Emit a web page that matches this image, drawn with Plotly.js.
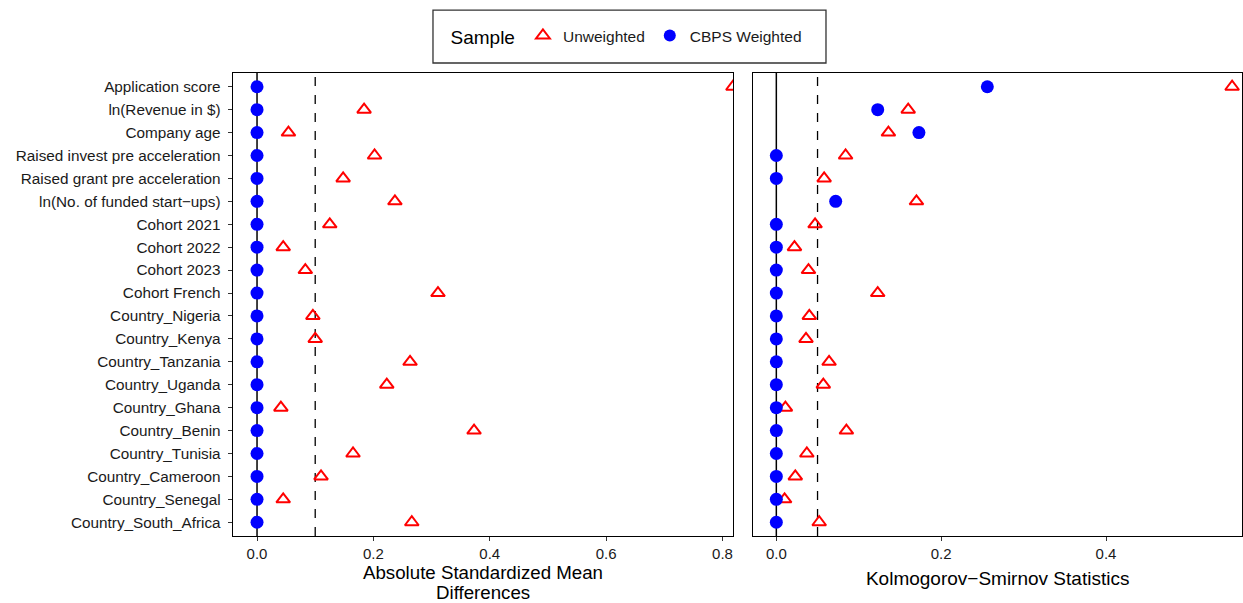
<!DOCTYPE html>
<html>
<head>
<meta charset="utf-8">
<script src="https://cdn.plot.ly/plotly-3.0.1.min.js"></script>
<style>html,body{margin:0;padding:0;background:#fff;}#chart{width:1243px;height:603px;}</style>
</head>
<body>
<div id="chart"></div>
<script>
const covariates = [
  "Application score", "ln(Revenue in $)", "Company age", "Raised invest pre acceleration",
  "Raised grant pre acceleration", "ln(No. of funded start\u2212ups)", "Cohort 2021", "Cohort 2022",
  "Cohort 2023", "Cohort French", "Country_Nigeria", "Country_Kenya", "Country_Tanzania",
  "Country_Uganda", "Country_Ghana", "Country_Benin", "Country_Tunisia", "Country_Cameroon",
  "Country_Senegal", "Country_South_Africa"
];
const smdUnweighted = [0.818, 0.184, 0.054, 0.202, 0.148, 0.237, 0.125, 0.045, 0.083, 0.311,
  0.096, 0.100, 0.263, 0.223, 0.041, 0.373, 0.165, 0.110, 0.045, 0.266];
const smdWeighted = [0, 0, 0, 0, 0, 0, 0, 0, 0, 0, 0, 0, 0, 0, 0, 0, 0, 0, 0, 0];
const ksUnweighted = [0.553, 0.160, 0.136, 0.084, 0.058, 0.170, 0.047, 0.022, 0.039, 0.123,
  0.040, 0.036, 0.064, 0.057, 0.011, 0.085, 0.037, 0.023, 0.010, 0.052];
const ksWeighted = [0.256, 0.123, 0.173, 0, 0, 0.072, 0, 0, 0, 0, 0, 0, 0, 0, 0, 0, 0, 0, 0, 0];
const smdThreshold = 0.1;
const ksThreshold = 0.05;
const xTicks = [0, 0.2, 0.4, 0.6, 0.8];
const smdTitleLines = ["Absolute Standardized Mean", "Differences"];
const ksTitle = "Kolmogorov\u2212Smirnov Statistics";

const idx = covariates.map((_, i) => i);
const FONT = "Liberation Sans, Arial, sans-serif";
const triMarker = {symbol: "triangle-up-open", size: 12, color: "#FF0000", line: {color: "#FF0000", width: 2}};
const dotMarker = {symbol: "circle", size: 13, color: "#0000FF", line: {width: 0}};

const traces = [
  {type: "scatter", mode: "markers", name: "Unweighted", x: smdUnweighted, y: idx, xaxis: "x", yaxis: "y",
   marker: triMarker, legendgroup: "u", cliponaxis: true},
  {type: "scatter", mode: "markers", name: "CBPS Weighted", x: smdWeighted, y: idx, xaxis: "x", yaxis: "y",
   marker: dotMarker, legendgroup: "w", cliponaxis: true},
  {type: "scatter", mode: "markers", name: "Unweighted", x: ksUnweighted, y: idx, xaxis: "x2", yaxis: "y2",
   marker: triMarker, legendgroup: "u", showlegend: false, cliponaxis: true},
  {type: "scatter", mode: "markers", name: "CBPS Weighted", x: ksWeighted, y: idx, xaxis: "x2", yaxis: "y2",
   marker: dotMarker, legendgroup: "w", showlegend: false, cliponaxis: true}
];

const axisCommon = {
  showline: true, linecolor: "#000", linewidth: 1.3, mirror: true,
  ticks: "outside", ticklen: 4, tickcolor: "#333", tickwidth: 1,
  showgrid: false, zeroline: false,
  tickfont: {family: FONT, size: 15, color: "#1a1a1a"}
};

const shapes = [
  {type: "line", xref: "x", yref: "y domain", x0: 0, x1: 0, y0: 0, y1: 1, line: {color: "#000", width: 1.5}, layer: "below"},
  {type: "line", xref: "x", yref: "y domain", x0: smdThreshold, x1: smdThreshold, y0: 0, y1: 1, line: {color: "#000", width: 1.3, dash: "dash"}, layer: "below"},
  {type: "line", xref: "x2", yref: "y2 domain", x0: 0, x1: 0, y0: 0, y1: 1, line: {color: "#000", width: 1.5}, layer: "below"},
  {type: "line", xref: "x2", yref: "y2 domain", x0: ksThreshold, x1: ksThreshold, y0: 0, y1: 1, line: {color: "#000", width: 1.3, dash: "dash"}, layer: "below"},
  {type: "rect", xref: "paper", yref: "paper", x0: 0.1982, x1: 0.5877, y0: 1.0216, y1: 1.136, line: {color: "#333", width: 1.3}, fillcolor: "rgba(0,0,0,0)"}
];

const titleY = [-0.0799, -0.1231];
const annotations = smdTitleLines.map((t, i) => ({
  text: t, xref: "paper", yref: "paper", x: 0.24775, y: titleY[i], xanchor: "center", yanchor: "middle",
  showarrow: false, font: {family: FONT, size: 18.7, color: "#000"}
}));

const layout = {
  width: 1243, height: 603,
  margin: {l: 233, r: 1, t: 73, b: 67},
  paper_bgcolor: "#fff", plot_bgcolor: "#fff",
  font: {family: FONT, color: "#000"},
  showlegend: true,
  legend: {
    orientation: "h", x: 0.391, xanchor: "center", y: 1.079, yanchor: "middle",
    borderwidth: 0, bgcolor: "rgba(0,0,0,0)",
    title: {text: "Sample", font: {family: FONT, size: 19, color: "#000"}},
    font: {family: FONT, size: 15.5, color: "#1a1a1a"},
    itemsizing: "constant"
  },
  annotations: annotations,
  xaxis: Object.assign({}, axisCommon, {
    domain: [0, 0.4955], range: [-0.0413, 0.818],
    tickvals: xTicks, tickformat: ".1f"
  }),
  yaxis: Object.assign({}, axisCommon, {
    range: [19.6, -0.6], tickvals: idx, ticktext: covariates, ticklen: 4,
    tickfont: {family: FONT, size: 15.3, color: "#1a1a1a"}, ticklabelstandoff: 4
  }),
  xaxis2: Object.assign({}, axisCommon, {
    domain: [0.5157, 1], range: [-0.0279, 0.565], anchor: "y2",
    tickvals: xTicks, tickformat: ".1f",
    title: {text: ksTitle, font: {family: FONT, size: 19, color: "#000"}, standoff: 10}
  }),
  yaxis2: Object.assign({}, axisCommon, {
    range: [19.6, -0.6], anchor: "x2", tickvals: idx, showticklabels: false, ticks: ""
  }),
  shapes: shapes
};

Plotly.newPlot("chart", traces, layout, {displayModeBar: false, staticPlot: true});
</script>
</body>
</html>
